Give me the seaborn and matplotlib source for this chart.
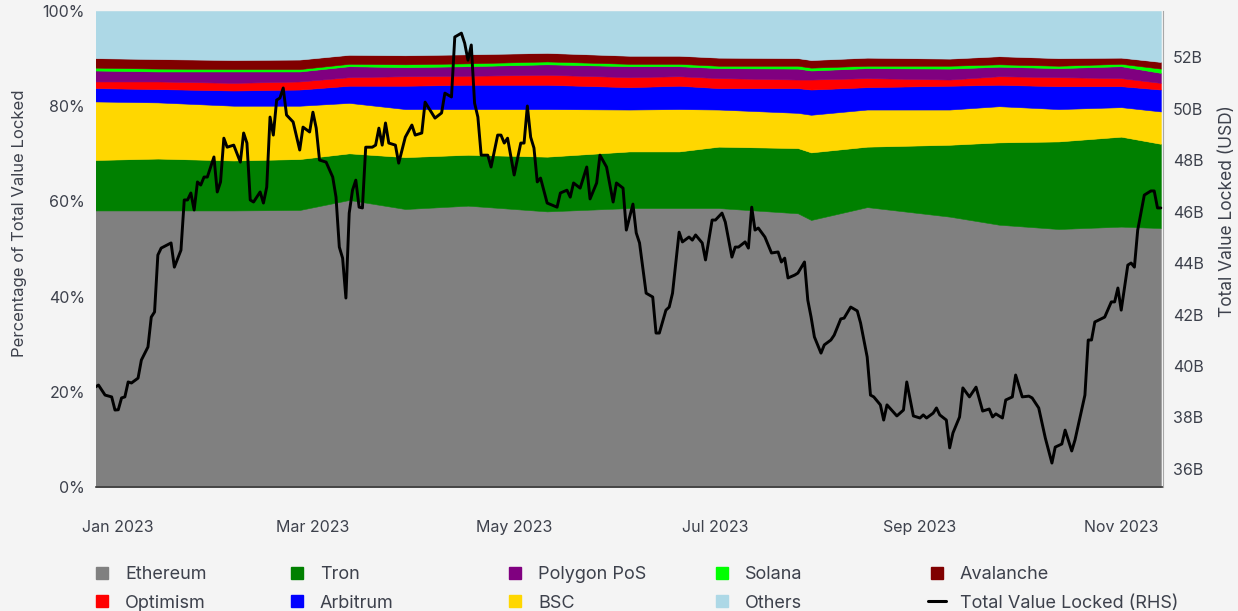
import matplotlib
matplotlib.use('Agg')

import pandas as pd
import matplotlib.pyplot as plt
import matplotlib.dates as mdates
from matplotlib.lines import Line2D
from matplotlib.ticker import FuncFormatter
import seaborn as sns

# share of total value locked per chain (%)
share_dates = ['2022-12-25', '2023-01-13', '2023-02-05', '2023-02-25', '2023-03-12',
               '2023-03-29', '2023-04-17', '2023-05-11', '2023-06-05', '2023-06-20',
               '2023-07-02', '2023-07-26', '2023-07-30', '2023-08-16', '2023-09-10',
               '2023-09-25', '2023-10-13', '2023-11-01', '2023-11-13']
ethereum = [58.1, 58.1, 58.1, 58.2, 60.3, 58.4, 59.1, 57.9, 58.6, 58.6,
            58.6, 57.5, 56.1, 58.8, 56.8, 55.1, 54.2, 54.7, 54.4]
tron = [10.6, 10.9, 10.5, 10.7, 9.8, 10.9, 10.7, 11.5, 11.9, 11.9,
        12.9, 13.7, 14.2, 12.7, 15.1, 17.3, 18.4, 18.9, 17.7]
bsc = [12.3, 11.8, 11.5, 11.2, 10.6, 10.1, 9.6, 10.0, 8.8, 8.9,
       7.8, 7.4, 7.9, 7.8, 7.4, 7.6, 6.8, 6.2, 6.8]
arbitrum = [2.8, 2.8, 3.2, 3.4, 3.6, 4.9, 5.1, 5.1, 4.7, 4.9,
            4.5, 5.2, 5.3, 4.7, 5.0, 4.5, 4.8, 4.4, 4.6]
optimism = [1.4, 1.6, 1.6, 1.7, 1.8, 2.0, 1.9, 2.1, 2.1, 2.0,
            2.1, 1.8, 2.1, 1.9, 1.3, 1.8, 1.9, 1.7, 1.4]
polygon = [2.3, 2.1, 2.4, 2.1, 2.3, 1.9, 2.0, 2.2, 2.3, 2.1,
           2.1, 2.3, 1.9, 2.1, 2.3, 2.0, 1.9, 2.5, 2.1]
solana = [0.6, 0.6, 0.5, 0.5, 0.5, 0.6, 0.6, 0.6, 0.5, 0.5,
          0.5, 0.6, 0.6, 0.5, 0.6, 0.5, 0.5, 0.5, 0.9]
avalanche = [2.0, 2.0, 1.9, 2.0, 1.9, 1.9, 1.9, 1.8, 1.7, 1.7,
             1.7, 1.6, 1.6, 1.7, 1.5, 1.7, 1.6, 1.3, 1.4]
others = [9.9, 10.1, 10.3, 10.2, 9.2, 9.3, 9.1, 8.8, 9.4, 9.4,
          9.8, 9.9, 10.3, 9.8, 10.0, 9.5, 9.9, 9.8, 10.7]

# total value locked (USD bn), right hand side
tvl_dates = [
    '2022-12-25', '2022-12-26', '2022-12-28', '2022-12-30', '2022-12-31', '2023-01-01',
    '2023-01-02', '2023-01-03', '2023-01-04', '2023-01-05', '2023-01-07', '2023-01-08',
    '2023-01-10', '2023-01-11', '2023-01-12', '2023-01-13', '2023-01-14', '2023-01-17',
    '2023-01-18', '2023-01-20', '2023-01-21', '2023-01-22', '2023-01-23', '2023-01-24',
    '2023-01-25', '2023-01-26', '2023-01-27', '2023-01-28', '2023-01-30', '2023-01-31',
    '2023-02-01', '2023-02-02', '2023-02-03', '2023-02-05', '2023-02-07', '2023-02-08',
    '2023-02-09', '2023-02-10', '2023-02-11', '2023-02-13', '2023-02-14', '2023-02-15',
    '2023-02-16', '2023-02-17', '2023-02-18', '2023-02-19', '2023-02-20', '2023-02-21',
    '2023-02-23', '2023-02-25', '2023-02-26', '2023-02-28', '2023-03-01', '2023-03-02',
    '2023-03-03', '2023-03-05', '2023-03-07', '2023-03-08', '2023-03-09', '2023-03-10',
    '2023-03-11', '2023-03-12', '2023-03-13', '2023-03-14', '2023-03-15', '2023-03-16',
    '2023-03-17', '2023-03-19', '2023-03-20', '2023-03-21', '2023-03-22', '2023-03-23',
    '2023-03-24', '2023-03-26', '2023-03-27', '2023-03-29', '2023-03-31', '2023-04-01',
    '2023-04-03', '2023-04-04', '2023-04-07', '2023-04-09', '2023-04-10', '2023-04-12',
    '2023-04-13', '2023-04-15', '2023-04-16', '2023-04-17', '2023-04-18', '2023-04-19',
    '2023-04-20', '2023-04-21', '2023-04-23', '2023-04-24', '2023-04-26', '2023-04-27',
    '2023-04-28', '2023-04-29', '2023-05-01', '2023-05-03', '2023-05-04', '2023-05-05',
    '2023-05-06', '2023-05-07', '2023-05-08', '2023-05-09', '2023-05-11', '2023-05-14',
    '2023-05-15', '2023-05-17', '2023-05-18', '2023-05-19', '2023-05-21', '2023-05-23',
    '2023-05-24', '2023-05-26', '2023-05-27', '2023-05-29', '2023-05-31', '2023-06-01',
    '2023-06-03', '2023-06-04', '2023-06-06', '2023-06-07', '2023-06-08', '2023-06-10',
    '2023-06-12', '2023-06-13', '2023-06-14', '2023-06-16', '2023-06-17', '2023-06-18',
    '2023-06-20', '2023-06-21', '2023-06-23', '2023-06-24', '2023-06-25', '2023-06-27',
    '2023-06-28', '2023-06-30', '2023-07-01', '2023-07-03', '2023-07-04', '2023-07-06',
    '2023-07-07', '2023-07-08', '2023-07-10', '2023-07-11', '2023-07-12', '2023-07-13',
    '2023-07-14', '2023-07-16', '2023-07-18', '2023-07-20', '2023-07-21', '2023-07-22',
    '2023-07-23', '2023-07-25', '2023-07-26', '2023-07-28', '2023-07-29', '2023-07-30',
    '2023-07-31', '2023-08-02', '2023-08-03', '2023-08-05', '2023-08-06', '2023-08-08',
    '2023-08-09', '2023-08-11', '2023-08-13', '2023-08-14', '2023-08-16', '2023-08-17',
    '2023-08-18', '2023-08-20', '2023-08-21', '2023-08-22', '2023-08-25', '2023-08-27',
    '2023-08-28', '2023-08-30', '2023-09-01', '2023-09-02', '2023-09-03', '2023-09-05',
    '2023-09-06', '2023-09-07', '2023-09-09', '2023-09-10', '2023-09-11', '2023-09-13',
    '2023-09-14', '2023-09-16', '2023-09-18', '2023-09-20', '2023-09-22', '2023-09-23',
    '2023-09-24', '2023-09-26', '2023-09-27', '2023-09-29', '2023-09-30', '2023-10-02',
    '2023-10-04', '2023-10-05', '2023-10-07', '2023-10-09', '2023-10-11', '2023-10-12',
    '2023-10-14', '2023-10-15', '2023-10-17', '2023-10-18', '2023-10-21', '2023-10-22',
    '2023-10-23', '2023-10-24', '2023-10-27', '2023-10-29', '2023-10-30', '2023-10-31',
    '2023-11-01', '2023-11-03', '2023-11-04', '2023-11-05', '2023-11-06', '2023-11-08',
    '2023-11-09', '2023-11-10', '2023-11-11', '2023-11-12', '2023-11-13']
tvl_values = [
    39.18, 39.26, 38.87, 38.80, 38.29, 38.30,
    38.76, 38.80, 39.38, 39.34, 39.53, 40.23,
    40.74, 41.90, 42.10, 44.31, 44.58, 44.78,
    43.84, 44.50, 46.45, 46.45, 46.72, 46.06,
    47.15, 47.03, 47.34, 47.34, 48.12, 46.76,
    47.15, 48.85, 48.50, 48.58, 47.92, 49.05,
    48.66, 46.45, 46.37, 46.76, 46.33, 46.95,
    49.67, 48.97, 50.33, 50.41, 50.80, 49.75,
    49.48, 48.39, 49.28, 49.09, 49.86, 49.24,
    48.00, 47.92, 47.34, 46.56, 44.62, 44.19,
    42.64, 45.94, 46.83, 47.22, 46.17, 46.14,
    48.50, 48.50, 48.58, 49.24, 48.58, 49.44,
    48.66, 48.58, 47.88, 48.89, 49.36, 48.97,
    49.05, 50.25, 49.63, 49.83, 50.60, 50.45,
    52.78, 52.93, 52.54, 51.88, 52.47, 50.21,
    49.67, 48.19, 48.19, 47.73, 48.97, 48.97,
    48.66, 48.85, 47.42, 48.66, 48.66, 50.10,
    48.89, 48.47, 47.15, 47.30, 46.33, 46.17,
    46.72, 46.83, 46.56, 47.11, 46.91, 47.73,
    46.49, 47.11, 48.19, 47.73, 46.37, 47.11,
    46.91, 45.28, 46.29, 45.17, 44.78, 42.83,
    42.68, 41.28, 41.28, 42.17, 42.29, 42.83,
    45.20, 44.82, 45.01, 44.89, 45.09, 44.78,
    44.12, 45.67, 45.67, 45.94, 45.59, 44.23,
    44.62, 44.62, 44.82, 44.58, 46.17, 45.28,
    45.36, 45.01, 44.39, 44.43, 44.04, 44.19,
    43.42, 43.53, 43.61, 44.04, 42.56, 41.90,
    41.13, 40.50, 40.82, 41.01, 41.20, 41.83,
    41.86, 42.29, 42.14, 41.67, 40.35, 38.87,
    38.80, 38.49, 37.90, 38.49, 38.06, 38.29,
    39.38, 38.06, 37.98, 38.10, 37.98, 38.17,
    38.37, 38.10, 37.90, 36.82, 37.40, 38.02,
    39.15, 38.80, 39.18, 38.25, 38.33, 38.02,
    38.14, 37.98, 38.68, 38.80, 39.65, 38.80,
    38.83, 38.76, 38.37, 37.20, 36.23, 36.85,
    36.97, 37.51, 36.70, 37.13, 38.87, 41.01,
    41.01, 41.71, 41.90, 42.49, 42.49, 43.03,
    42.17, 43.92, 44.00, 43.84, 45.28, 46.64,
    46.72, 46.80, 46.80, 46.14, 46.14]

chain_names = ['Ethereum', 'Tron', 'BSC', 'Arbitrum', 'Optimism',
               'Polygon PoS', 'Solana', 'Avalanche', 'Others']
chain_colors = ['#808080', '#008000', '#ffd700', '#0000ff', '#ff0000',
                '#800080', '#00ff00', '#800000', '#add8e6']

text_col = '#3d414c'
bg_col = '#f4f4f4'

sns.set_theme(style='white')
plt.rcParams['font.family'] = ['Inter', 'DejaVu Sans']

shares = pd.DataFrame({'date': pd.to_datetime(share_dates),
                       'Ethereum': ethereum, 'Tron': tron, 'BSC': bsc,
                       'Arbitrum': arbitrum, 'Optimism': optimism,
                       'Polygon PoS': polygon, 'Solana': solana,
                       'Avalanche': avalanche, 'Others': others})
tvl = pd.DataFrame({'date': pd.to_datetime(tvl_dates), 'tvl': tvl_values})

fig = plt.figure(figsize=(12.38, 6.11), dpi=100, facecolor=bg_col)
ax = fig.add_axes([96 / 1238, 1 - 487 / 611, 1067 / 1238, 476 / 611])
ax.set_facecolor(bg_col)

# stacked shares
polys = ax.stackplot(shares['date'], *[shares[c] for c in chain_names],
                     colors=chain_colors, linewidth=0)
for p, c in zip(polys, chain_colors):
    p.set_edgecolor(c)
    p.set_linewidth(0.4)

ax.set_ylim(0, 100)
ax.set_xlim(pd.Timestamp('2022-12-25 06:00'), pd.Timestamp('2023-11-13 16:00'))
ax.set_yticks(range(0, 101, 20))
ax.yaxis.set_major_formatter(FuncFormatter(lambda v, p: f'{v:.0f}%'))
ax.xaxis.set_major_locator(mdates.MonthLocator(bymonth=[1, 3, 5, 7, 9, 11]))
ax.xaxis.set_major_formatter(mdates.DateFormatter('%b %Y'))
ax.tick_params(axis='y', length=0, labelsize=11.5, labelcolor=text_col, pad=8)
ax.tick_params(axis='x', length=0, labelsize=11.5, labelcolor=text_col, pad=24)
for side in ['top', 'left', 'right']:
    ax.spines[side].set_visible(False)
ax.spines['bottom'].set_color('#3a3a3a')
ax.spines['bottom'].set_linewidth(1.2)

# total value locked line on the right axis
ax2 = ax.twinx()
sns.lineplot(data=tvl, x='date', y='tvl', ax=ax2, color='black', linewidth=2.1)
ax2.set_ylim(35.3, 53.79)
ax2.set_yticks(range(36, 53, 2))
ax2.yaxis.set_major_formatter(FuncFormatter(lambda v, p: f'{v:.0f}B'))
ax2.tick_params(axis='y', length=0, labelsize=11.5, labelcolor=text_col, pad=7)
ax2.set_xlabel('')
ax2.set_ylabel('')
for side in ['top', 'left', 'bottom']:
    ax2.spines[side].set_visible(False)
ax2.spines['right'].set_color('#a8a8a8')
ax2.spines['right'].set_linewidth(0.8)

fig.text(20 / 1238, 1 - 223 / 611, 'Percentage of Total Value Locked', rotation=90,
         ha='center', va='center', fontsize=12, color=text_col)
fig.text(1228 / 1238, 1 - 211 / 611, 'Total Value Locked (USD)', rotation=90,
         ha='center', va='center', fontsize=12.5, color=text_col)

# legend, laid out in five columns of two rows
def square(c):
    return Line2D([], [], marker='s', linestyle='None', markersize=9,
                  markerfacecolor=c, markeredgecolor=c)

col_items = [[(square(chain_colors[0]), 'Ethereum'), (square(chain_colors[4]), 'Optimism')],
             [(square(chain_colors[1]), 'Tron'), (square(chain_colors[3]), 'Arbitrum')],
             [(square(chain_colors[5]), 'Polygon PoS'), (square(chain_colors[2]), 'BSC')],
             [(square(chain_colors[6]), 'Solana'), (square(chain_colors[8]), 'Others')],
             [(square(chain_colors[7]), 'Avalanche'),
              (Line2D([], [], color='black', linewidth=2.2), 'Total Value Locked (RHS)')]]
col_x = [102, 297, 515, 722, 937]
fs = 13
for x, items in zip(col_x, col_items):
    fig.legend([h for h, _ in items], [l for _, l in items],
               loc='center left', bbox_to_anchor=((x - 9.0) / 1238, 1 - 589 / 611),
               frameon=False, fontsize=fs, labelcolor=text_col,
               handlelength=1.0, handletextpad=0.77, labelspacing=0.62,
               borderpad=0, borderaxespad=0)

fig.savefig('out.png', dpi=100, facecolor=bg_col)
